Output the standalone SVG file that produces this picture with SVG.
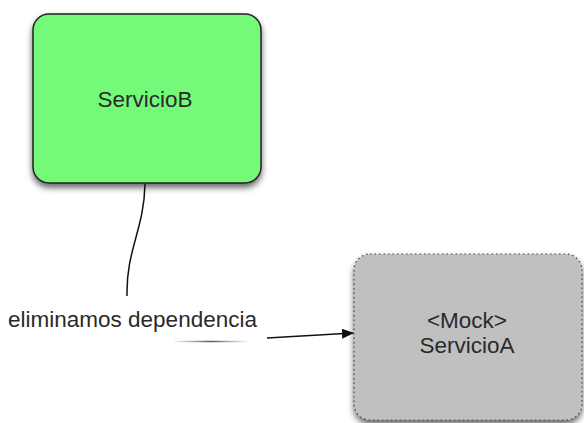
<svg xmlns="http://www.w3.org/2000/svg" width="584" height="423" viewBox="0 0 584 423">
<style>
text{font-family:"Liberation Sans",Arial,sans-serif;font-size:22.5px;fill:#2a2a2a;text-anchor:middle}
.conn{fill:none;stroke:#111;stroke-width:1.5}
</style>
<defs>
<filter id="sh" x="-10%" y="-10%" width="130%" height="130%">
<feDropShadow dx="0" dy="4" stdDeviation="3" flood-color="#000" flood-opacity="0.6"/>
</filter>
<marker id="ah" markerWidth="12" markerHeight="10" refX="11" refY="5" orient="auto" markerUnits="userSpaceOnUse">
<path d="M0,0 L12,5 L0,10 z" fill="#111"/>
</marker>
<linearGradient id="fade" gradientUnits="userSpaceOnUse" x1="174" y1="0" x2="248" y2="0">
<stop offset="0" stop-color="#888" stop-opacity="0.1"/>
<stop offset="0.5" stop-color="#555" stop-opacity="1"/>
<stop offset="1" stop-color="#888" stop-opacity="0.1"/>
</linearGradient>
</defs>
<g id="servicioB">
<rect x="33" y="14" width="228" height="169" rx="16" fill="#74f979" stroke="#222" stroke-width="1.5" filter="url(#sh)"/>
<text x="145" y="107">ServicioB</text>
</g>
<g id="servicioA">
<rect x="354" y="254" width="228" height="166" rx="16" fill="#c0c0c0" stroke="#444" stroke-width="1.2" stroke-dasharray="1.5,3" filter="url(#sh)"/>
<text x="467" y="328">&lt;Mock&gt;</text>
<text x="467" y="353">ServicioA</text>
</g>
<g id="connectors">
<path class="conn" d="M145,184 C144,230 126,250 127,296"/>
<line x1="174" y1="341.5" x2="248" y2="341.5" stroke="url(#fade)" stroke-width="1.5"/>
<line class="conn" x1="267" y1="338" x2="353" y2="333" marker-end="url(#ah)"/>
<text x="132.5" y="327">eliminamos dependencia</text>
</g>
</svg>
